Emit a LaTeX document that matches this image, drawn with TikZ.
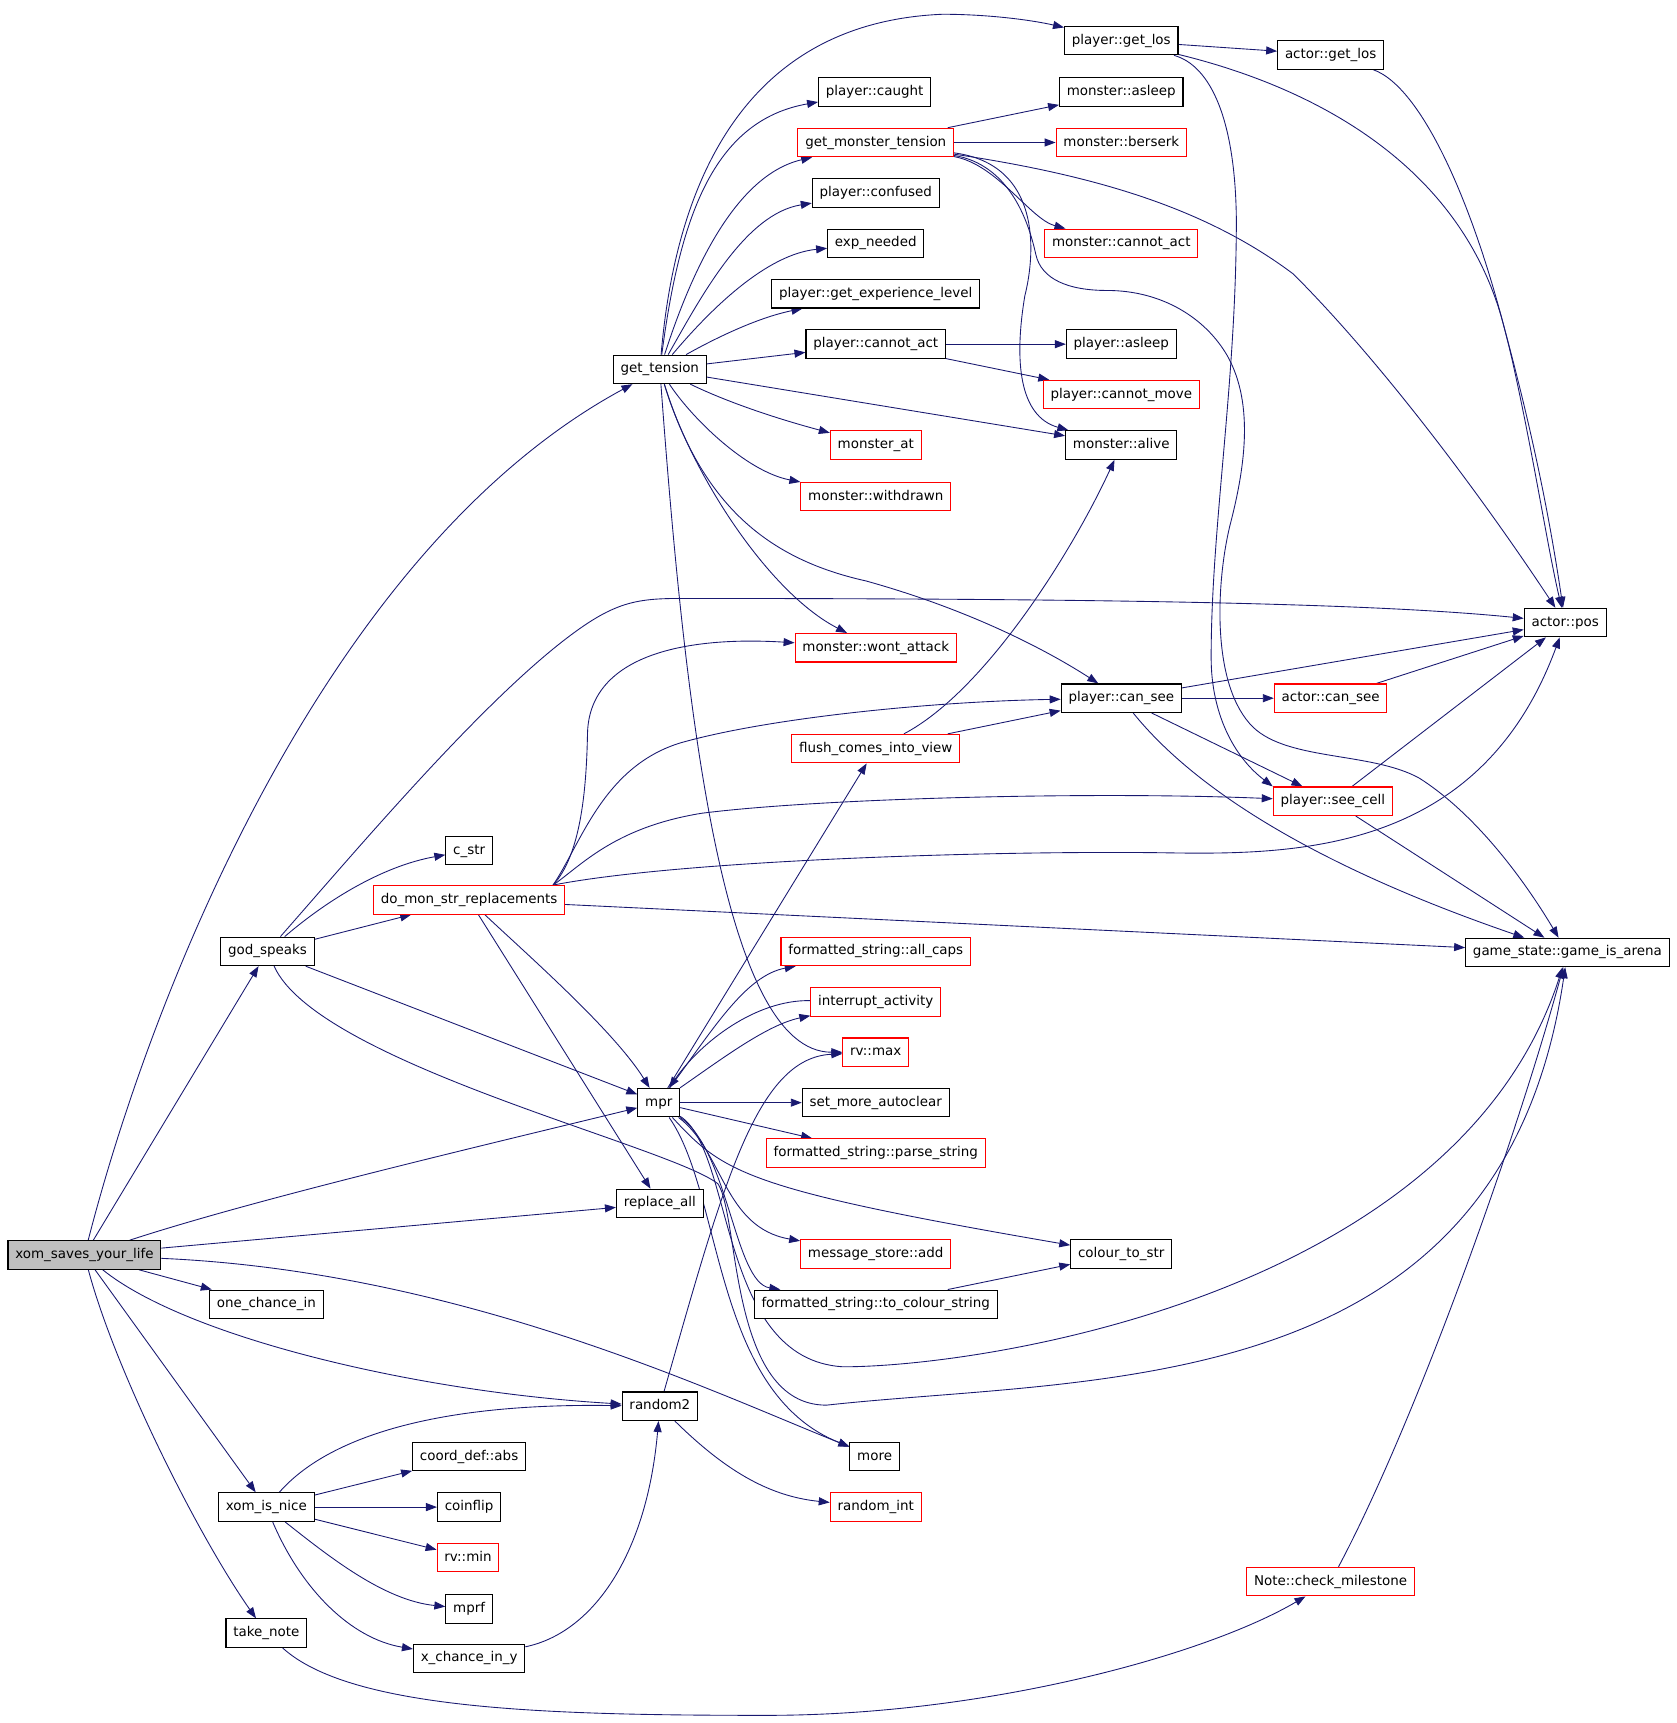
\documentclass[tikz,border=0pt]{standalone}
\usepackage{fontspec}
\setmainfont{DejaVu Sans}
\usepackage{xcolor}
\usepackage{tikz}
\usetikzlibrary{arrows.meta}
\pgfdeclarelayer{bg}
\pgfsetlayers{bg,main}
\definecolor{edgeblue}{HTML}{191970}
\definecolor{rootgray}{HTML}{BFBFBF}

\begin{document}
\begin{tikzpicture}[x = 0.75pt, y = -0.75pt,
  fn/.style = {draw = black, line width = 0.75pt, fill = white, font = \fontsize{9.2}{11}\selectfont,
    minimum height = 19.5pt, inner xsep = 5pt, inner ysep = 0pt, text height = 6.9pt, text depth = 2.1pt},
  fnred/.style = {fn, draw = red},
  fnroot/.style = {fn, fill = rootgray},
  call/.style = {draw = edgeblue, line width = 0.6pt, -{Triangle[length = 7.5pt, width = 5.5pt]}}]
\useasboundingbox (0, 0) rectangle (1530, 1572);

\node[fnroot] (xom) at (77, 1145) {xom\_saves\_your\_life};
\node[fn] (gt) at (602, 337) {get\_tension};
\node[fn] (gs) at (244, 868) {god\_speaks};
\node[fnred] (dmsr) at (428, 821) {do\_mon\_str\_replacements};
\node[fn] (cstr) at (428, 776) {c\_str};
\node[fn] (mpr) at (601, 1006) {mpr};
\node[fn] (repl) at (602, 1098) {replace\_all};
\node[fn] (oci) at (243, 1190) {one\_chance\_in};
\node[fn] (rnd) at (602, 1283) {random2};
\node[fn] (xin) at (243, 1375) {xom\_is\_nice};
\node[fn] (tn) at (243, 1490) {take\_note};
\node[fn] (cabs) at (428, 1329) {coord\_def::abs};
\node[fn] (cf) at (428, 1375) {coinflip};
\node[fnred] (rvmin) at (427, 1421) {rv::min};
\node[fn] (mprf) at (428, 1468) {mprf};
\node[fn] (xcy) at (428, 1513) {x\_chance\_in\_y};
\node[fn] (caught) at (798, 84) {player::caught};
\node[fnred] (gmt) at (799, 130) {get\_monster\_tension};
\node[fn] (conf) at (799, 176) {player::confused};
\node[fn] (expn) at (799, 222) {exp\_needed};
\node[fn] (gxl) at (799, 268) {player::get\_experience\_level};
\node[fn] (pca) at (799, 314) {player::cannot\_act};
\node[fnred] (mat) at (799, 406) {monster\_at};
\node[fnred] (mwd) at (799, 453) {monster::withdrawn};
\node[fnred] (mwa) at (799, 591) {monster::wont\_attack};
\node[fnred] (fciv) at (799, 683) {flush\_comes\_into\_view};
\node[fnred] (allc) at (799, 868) {formatted\_string::all\_caps};
\node[fnred] (intr) at (799, 914) {interrupt\_activity};
\node[fnred] (rvmax) at (799, 960) {rv::max};
\node[fn] (sma) at (799, 1006) {set\_more\_autoclear};
\node[fnred] (pstr) at (799, 1052) {formatted\_string::parse\_string};
\node[fnred] (msa) at (799, 1144) {message\_store::add};
\node[fn] (tcs) at (799, 1190) {formatted\_string::to\_colour\_string};
\node[fn] (more) at (798, 1329) {more};
\node[fnred] (rint) at (799, 1375) {random\_int};
\node[fn] (pgl) at (1023, 37) {player::get\_los};
\node[fn] (masl) at (1023, 84) {monster::asleep};
\node[fnred] (mbsk) at (1023, 130) {monster::berserk};
\node[fnred] (mca) at (1023, 222) {monster::cannot\_act};
\node[fn] (pasl) at (1023, 314) {player::asleep};
\node[fnred] (pcm) at (1023, 360) {player::cannot\_move};
\node[fn] (mal) at (1023, 406) {monster::alive};
\node[fn] (pcs) at (1023, 637) {player::can\_see};
\node[fn] (cts) at (1023, 1144) {colour\_to\_str};
\node[fnred] (ncm) at (1214, 1443) {Note::check\_milestone};
\node[fn] (agl) at (1214, 50) {actor::get\_los};
\node[fnred] (acs) at (1214, 637) {actor::can\_see};
\node[fnred] (psc) at (1216, 731) {player::see\_cell};
\node[fn] (apos) at (1428, 568) {actor::pos};
\node[fn] (arena) at (1430, 869) {game\_state::game\_is\_arena};

\begin{pgfonlayer}{bg}
\draw[call] (xom) .. controls (140, 900) and (300, 500) .. (gt);
\draw[call] (xom) -- (gs);
\draw[call] (xom) .. controls (230, 1095) and (420, 1050) .. (mpr);
\draw[call] (xom) -- (repl);
\draw[call] (xom) -- (oci);
\draw[call] (xom) .. controls (170, 1220) and (380, 1270) .. (rnd);
\draw[call] (xom) .. controls (420, 1160) and (650, 1270) .. (more);
\draw[call] (xom) -- (xin);
\draw[call] (xom) .. controls (105, 1250) and (180, 1400) .. (tn);

\draw[call] (gs) .. controls (330, 770) and (440, 640) .. (520, 580) .. controls (560, 550) and (580, 546) .. (620, 546) .. controls (1000, 546) and (1250, 550) .. (apos);
\draw[call] (gs) .. controls (300, 820) and (350, 790) .. (cstr);
\draw[call] (gs) -- (dmsr);
\draw[call] (gs) -- (mpr);
\draw[call] (gs) .. controls (290, 970) and (610, 1045) .. (655, 1080) .. controls (675, 1110) and (665, 1282) .. (754, 1282) .. controls (1000, 1255) and (1370, 1280) .. (arena);

\draw[call] (dmsr.10) .. controls (530, 780) and (535, 720) .. (536, 670) .. controls (537, 600) and (620, 580) .. (mwa);
\draw[call] (dmsr.10) .. controls (530, 770) and (550, 700) .. (620, 678) .. controls (700, 655) and (850, 640) .. (pcs);
\draw[call] (dmsr.10) .. controls (530, 790) and (560, 755) .. (640, 742) .. controls (750, 728) and (1000, 722) .. (psc);
\draw[call] (dmsr.10) .. controls (620, 785) and (900, 776) .. (1060, 778) .. controls (1180, 780) and (1350, 780) .. (apos);
\draw[call] (dmsr) -- (arena);
\draw[call] (dmsr) .. controls (480, 870) and (560, 940) .. (mpr);
\draw[call] (dmsr) -- (repl);

\draw[call] (mpr) -- (fciv);
\draw[call] (mpr) .. controls (650, 940) and (680, 890) .. (allc);
\draw[call] (intr) .. controls (690, 912) and (640, 950) .. (mpr);
\draw[call] (mpr) .. controls (660, 965) and (700, 935) .. (intr);
\draw[call] (mpr) -- (sma);
\draw[call] (mpr) -- (pstr);
\draw[call] (mpr) .. controls (660, 1070) and (680, 1085) .. (cts);
\draw[call] (mpr) .. controls (660, 1050) and (660, 1120) .. (msa);
\draw[call] (mpr) .. controls (665, 1050) and (670, 1170) .. (tcs);
\draw[call] (mpr) .. controls (660, 1090) and (650, 1270) .. (more);
\draw[call] (mpr) .. controls (670, 1050) and (655, 1240) .. (769, 1247) .. controls (900, 1247) and (1330, 1180) .. (arena);

\draw[call] (gt) .. controls (618, 150) and (690, 20) .. (860, 13) .. controls (900, 13) and (940, 18) .. (pgl);
\draw[call] (gt) .. controls (620, 200) and (650, 110) .. (caught);
\draw[call] (gt) .. controls (630, 250) and (670, 160) .. (gmt);
\draw[call] (gt) .. controls (640, 270) and (680, 195) .. (conf);
\draw[call] (gt) .. controls (650, 280) and (700, 232) .. (expn);
\draw[call] (gt) .. controls (650, 310) and (690, 290) .. (gxl);
\draw[call] (gt) -- (pca);
\draw[call] (gt) -- (mal);
\draw[call] (gt) .. controls (670, 370) and (720, 385) .. (mat);
\draw[call] (gt) .. controls (630, 380) and (680, 430) .. (mwd);
\draw[call] (gt) .. controls (630, 430) and (700, 540) .. (mwa);
\draw[call] (gt) .. controls (640, 460) and (700, 510) .. (790, 530) .. controls (880, 555) and (950, 590) .. (pcs);
\draw[call] (gt) .. controls (625, 650) and (660, 960) .. (rvmax);

\draw[call] (gmt) -- (masl);
\draw[call] (gmt) -- (mbsk);
\draw[call] (gmt) .. controls (910, 150) and (940, 200) .. (mca);
\draw[call] (gmt) .. controls (950, 150) and (945, 230) .. (935, 270) .. controls (925, 330) and (930, 380) .. (mal);
\draw[call] (gmt) .. controls (1000, 160) and (1100, 190) .. (1180, 250) .. controls (1260, 330) and (1350, 450) .. (apos);
\draw[call] (gmt) .. controls (920, 150) and (938, 200) .. (945, 232) .. controls (950, 255) and (975, 265) .. (1010, 265) .. controls (1060, 265) and (1100, 290) .. (1120, 325) .. controls (1145, 370) and (1135, 430) .. (1122, 480) .. controls (1110, 530) and (1105, 620) .. (1140, 660) .. controls (1170, 695) and (1250, 685) .. (1295, 710) .. controls (1350, 745) and (1395, 810) .. (arena);

\draw[call] (pgl) -- (agl);
\draw[call] (pgl) .. controls (1200, 80) and (1330, 150) .. (1370, 290) .. controls (1400, 400) and (1415, 480) .. (apos);
\draw[call] (pgl) .. controls (1105, 60) and (1127, 110) .. (1128, 200) .. controls (1128, 350) and (1105, 480) .. (1105, 600) .. controls (1105, 650) and (1125, 690) .. (psc.north west);
\draw[call] (agl) .. controls (1300, 80) and (1350, 200) .. (1380, 330) .. controls (1400, 420) and (1412, 500) .. (apos);

\draw[call] (pca) -- (pasl);
\draw[call] (pca) -- (pcm);

\draw[call] (fciv) .. controls (900, 630) and (980, 500) .. (mal);
\draw[call] (fciv) -- (pcs);

\draw[call] (pcs) -- (apos);
\draw[call] (pcs) -- (acs);
\draw[call] (pcs) -- (psc);
\draw[call] (pcs) .. controls (1090, 720) and (1200, 790) .. (arena);
\draw[call] (acs) -- (apos);
\draw[call] (psc) -- (apos);
\draw[call] (psc) -- (arena);

\draw[call] (tcs) -- (cts);
\draw[call] (ncm) .. controls (1290, 1300) and (1380, 1050) .. (arena);
\draw[call] (tn) .. controls (320, 1560) and (500, 1565) .. (700, 1565) .. controls (900, 1565) and (1100, 1510) .. (ncm);

\draw[call] (rnd) .. controls (660, 1080) and (690, 965) .. (rvmax);
\draw[call] (rnd) .. controls (660, 1340) and (700, 1365) .. (rint);

\draw[call] (xin) .. controls (300, 1310) and (400, 1280) .. (rnd);
\draw[call] (xin) -- (cabs);
\draw[call] (xin) -- (cf);
\draw[call] (xin) -- (rvmin);
\draw[call] (xin) .. controls (300, 1420) and (350, 1460) .. (mprf);
\draw[call] (xin) .. controls (275, 1450) and (320, 1495) .. (xcy);
\draw[call] (xcy) .. controls (540, 1490) and (590, 1420) .. (rnd);
\end{pgfonlayer}

\end{tikzpicture}
\end{document}
